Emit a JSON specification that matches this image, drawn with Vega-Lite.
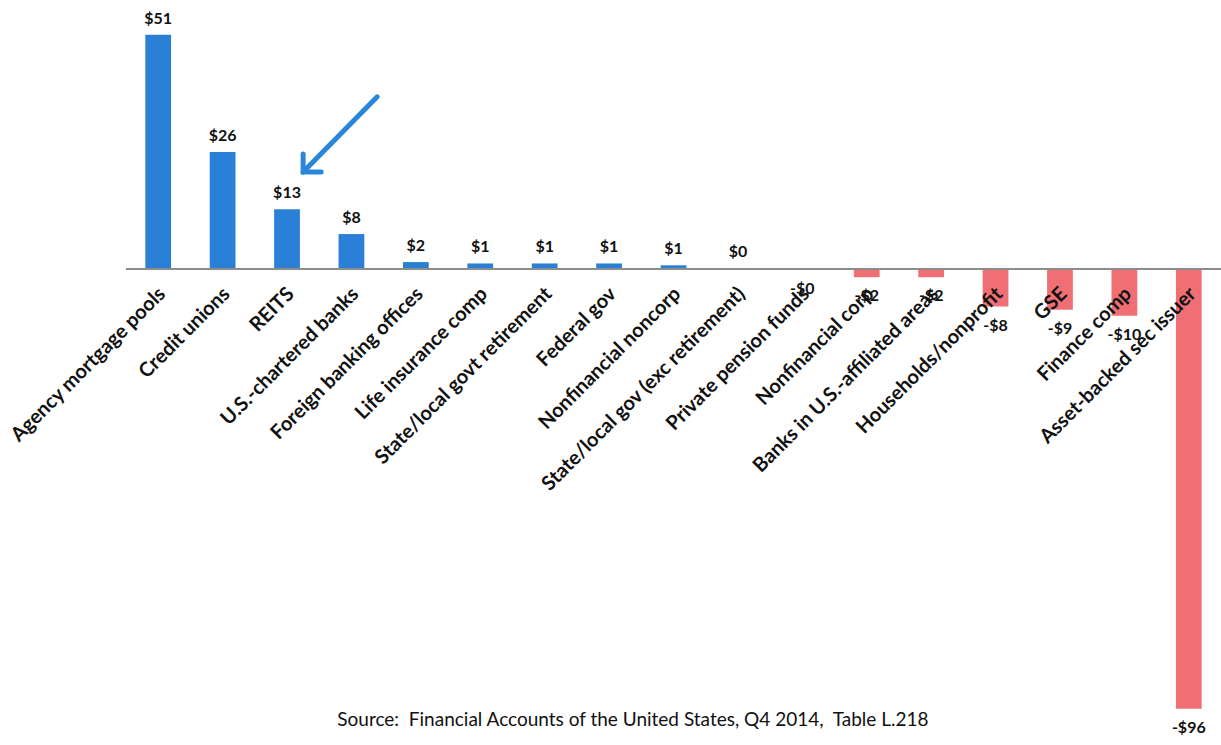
{
  "$schema": "https://vega.github.io/schema/vega-lite/v6.json",
  "width": 1095,
  "height": 708,
  "autosize": {"type": "none"},
  "padding": {"left": 126, "top": 10, "right": 0, "bottom": 27},
  "background": "white",
  "config": {"view": {"stroke": null}},
  "datasets": {
    "sectors": [
      {"sector": "Agency mortgage pools", "value": 51, "label": "$51"},
      {"sector": "Credit unions", "value": 25.5, "label": "$26"},
      {"sector": "REITS", "value": 13, "label": "$13"},
      {"sector": "U.S.-chartered banks", "value": 7.6, "label": "$8"},
      {"sector": "Foreign banking offices", "value": 1.5, "label": "$2"},
      {"sector": "Life insurance comp", "value": 1.2, "label": "$1"},
      {"sector": "State/local govt retirement", "value": 1.2, "label": "$1"},
      {"sector": "Federal gov", "value": 1.2, "label": "$1"},
      {"sector": "Nonfinancial noncorp", "value": 0.8, "label": "$1"},
      {"sector": "State/local gov (exc retirement)", "value": 0.2, "label": "$0"},
      {"sector": "Private pension funds", "value": -0.2, "label": "-$0"},
      {"sector": "Nonfinancial corp", "value": -1.8, "label": "-$2"},
      {"sector": "Banks in U.S.-affiliated areas", "value": -1.8, "label": "-$2"},
      {"sector": "Households/nonprofit", "value": -8.2, "label": "-$8"},
      {"sector": "GSE", "value": -8.9, "label": "-$9"},
      {"sector": "Finance comp", "value": -10.2, "label": "-$10"},
      {"sector": "Asset-backed sec issuer", "value": -95.8, "label": "-$96"}
    ],
    "arrow": [{"x0": 3.4, "y0": 37.5, "x1": 2.25, "y1": 21.1}],
    "source": [{"pos": 7.37, "y": -98.2, "text": "Source:\u00a0 Financial Accounts of the United States, Q4 2014,\u00a0 Table L.218"}]
  },
  "resolve": {"scale": {"x": "independent"}},
  "layer": [
    {
      "data": {"name": "sectors"},
      "encoding": {
        "x": {"field": "sector", "type": "nominal", "sort": null, "axis": null,
              "scale": {"paddingInner": 0.6, "paddingOuter": 0.3}},
        "y": {"field": "value", "type": "quantitative", "axis": null,
              "scale": {"domain": [-97.8, 56.4], "nice": false, "zero": false}}
      },
      "layer": [
        {
          "mark": {"type": "bar"},
          "encoding": {
            "color": {"condition": {"test": "datum.value < 0", "value": "#ef6f75"}, "value": "#2a7fd6"}
          }
        },
        {
          "mark": {"type": "rule", "color": "#8c8c8c", "strokeWidth": 1.5},
          "encoding": {"y": {"datum": 0}, "x": null}
        },
        {
          "transform": [{"filter": "datum.value >= 0"}],
          "mark": {"type": "text", "baseline": "bottom", "dy": -8, "font": "Lato", "fontWeight": "bold", "fontSize": 16, "color": "#111"},
          "encoding": {"text": {"field": "label"}}
        },
        {
          "transform": [{"filter": "datum.value < 0"}],
          "mark": {"type": "text", "baseline": "top", "dy": 11, "font": "Lato", "fontWeight": "bold", "fontSize": 16, "color": "#111"},
          "encoding": {"text": {"field": "label"}}
        },
        {
          "mark": {"type": "text", "angle": -45, "align": "right", "baseline": "middle", "font": "Lato", "fontWeight": "bold", "fontSize": 20, "color": "#111", "xOffset": 4, "yOffset": 22},
          "encoding": {"y": {"datum": 0}, "text": {"field": "sector"}}
        }
      ]
    },
    {
      "data": {"name": "arrow"},
      "encoding": {
        "x": {"field": "x0", "type": "quantitative", "axis": null, "scale": {"domain": [-0.5, 16.5], "nice": false, "zero": false}},
        "y": {"field": "y0", "type": "quantitative"},
        "x2": {"field": "x1"},
        "y2": {"field": "y1"}
      },
      "layer": [
        {"mark": {"type": "rule", "color": "#2a86d8", "strokeWidth": 5, "strokeCap": "round"}}
      ]
    },
    {
      "data": {"name": "arrow"},
      "mark": {"type": "point", "shape": "M 0 -1 L 0 0 L 1 0", "filled": false, "size": 1300, "strokeWidth": 5, "color": "#2a86d8", "opacity": 1, "strokeJoin": "miter", "strokeCap": "round"},
      "encoding": {
        "x": {"field": "x1", "type": "quantitative", "axis": null, "scale": {"domain": [-0.5, 16.5], "nice": false, "zero": false}},
        "y": {"field": "y1", "type": "quantitative"}
      }
    },
    {
      "data": {"name": "source"},
      "mark": {"type": "text", "font": "Lato", "fontSize": 19, "color": "#111", "baseline": "middle", "align": "center"},
      "encoding": {
        "x": {"field": "pos", "type": "quantitative", "axis": null, "scale": {"domain": [-0.5, 16.5], "nice": false, "zero": false}},
        "y": {"field": "y", "type": "quantitative"},
        "text": {"field": "text"}
      }
    }
  ]
}
